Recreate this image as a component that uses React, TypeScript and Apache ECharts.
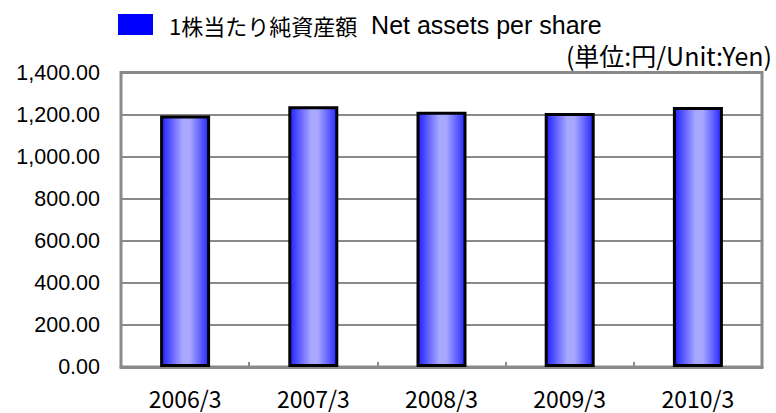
import React, { useEffect, useRef } from "react";
import * as echarts from "echarts";

const categories = ["2006/3", "2007/3", "2008/3", "2009/3", "2010/3"];
const netAssetsPerShare = [1195, 1239, 1214, 1208, 1236];
const seriesName = "1株当たり純資産額  Net assets per share";
const legendJa = "1株当たり純資産額";
const legendEn = "Net assets per share";
const unitLabel = "(単位:円/Unit:Yen)";

export default function App() {
  const ref = useRef<HTMLDivElement>(null);
  useEffect(() => {
    if (!ref.current) return;
    const chart = echarts.init(ref.current, null, { renderer: "svg" });
    const gray = "#8a8a8a";
    chart.setOption({
      animation: false,
      backgroundColor: "#ffffff",
      grid: {
        left: 121,
        right: 14,
        top: 72.5,
        bottom: 46,
        show: true,
        borderColor: gray,
        borderWidth: 3,
        containLabel: false,
      },
      legend: {
        left: 113,
        top: 7,
        icon: "rect",
        itemWidth: 35,
        itemHeight: 21,
        formatter: () => `{a|${legendJa}}{b|  ${legendEn}}`,
        textStyle: {
          color: "#000",
          padding: [0, 0, 0, 11],
          rich: {
            a: {
              fontFamily: "'Noto Sans CJK JP', sans-serif",
              fontSize: 22,
              color: "#000",
            },
            b: {
              fontFamily: "'Liberation Sans', Arial, sans-serif",
              fontSize: 25,
              color: "#000",
            },
          },
        },
        data: [
          {
            name: seriesName,
            itemStyle: { color: "#0000ff", borderWidth: 0 },
          },
        ],
      },
      graphic: [
        {
          type: "text",
          x: 772,
          y: 55,
          style: {
            text: unitLabel,
            align: "right",
            verticalAlign: "middle",
            fontFamily: "'Noto Sans CJK JP', sans-serif",
            fontSize: 25,
            fill: "#000",
          },
        },
      ],
      xAxis: {
        type: "category",
        data: categories,
        axisLine: { show: true, lineStyle: { color: gray, width: 3 } },
        axisTick: {
          show: true,
          inside: true,
          length: 5,
          alignWithLabel: false,
          lineStyle: { color: gray, width: 2 },
        },
        axisLabel: {
          color: "#000",
          fontFamily: "'Noto Sans CJK JP', sans-serif",
          fontSize: 23,
          margin: 19,
        },
      },
      yAxis: {
        type: "value",
        min: 0,
        max: 1400,
        interval: 200,
        axisLine: { show: false },
        axisTick: { show: false },
        axisLabel: {
          color: "#000",
          fontFamily: "'Liberation Sans', Arial, sans-serif",
          fontSize: 21.5,
          margin: 21,
          formatter: (v: number) =>
            v.toLocaleString("en-US", {
              minimumFractionDigits: 2,
              maximumFractionDigits: 2,
            }),
        },
        splitLine: { show: true, lineStyle: { color: gray, width: 2 } },
      },
      series: [
        {
          name: seriesName,
          type: "bar",
          data: netAssetsPerShare,
          barWidth: 50,
          itemStyle: {
            borderColor: "#000",
            borderWidth: 3,
            color: new echarts.graphic.LinearGradient(0, 0, 1, 0, [
              { offset: 0, color: "#2020ff" },
              { offset: 0.45, color: "#a8a8ff" },
              { offset: 0.6, color: "#a8a8ff" },
              { offset: 1, color: "#2828ff" },
            ]),
          },
        },
      ],
    });
    return () => chart.dispose();
  }, []);
  return (
    <div
      ref={ref}
      style={{ position: "fixed", left: 0, top: 0, width: 776, height: 413 }}
    />
  );
}
